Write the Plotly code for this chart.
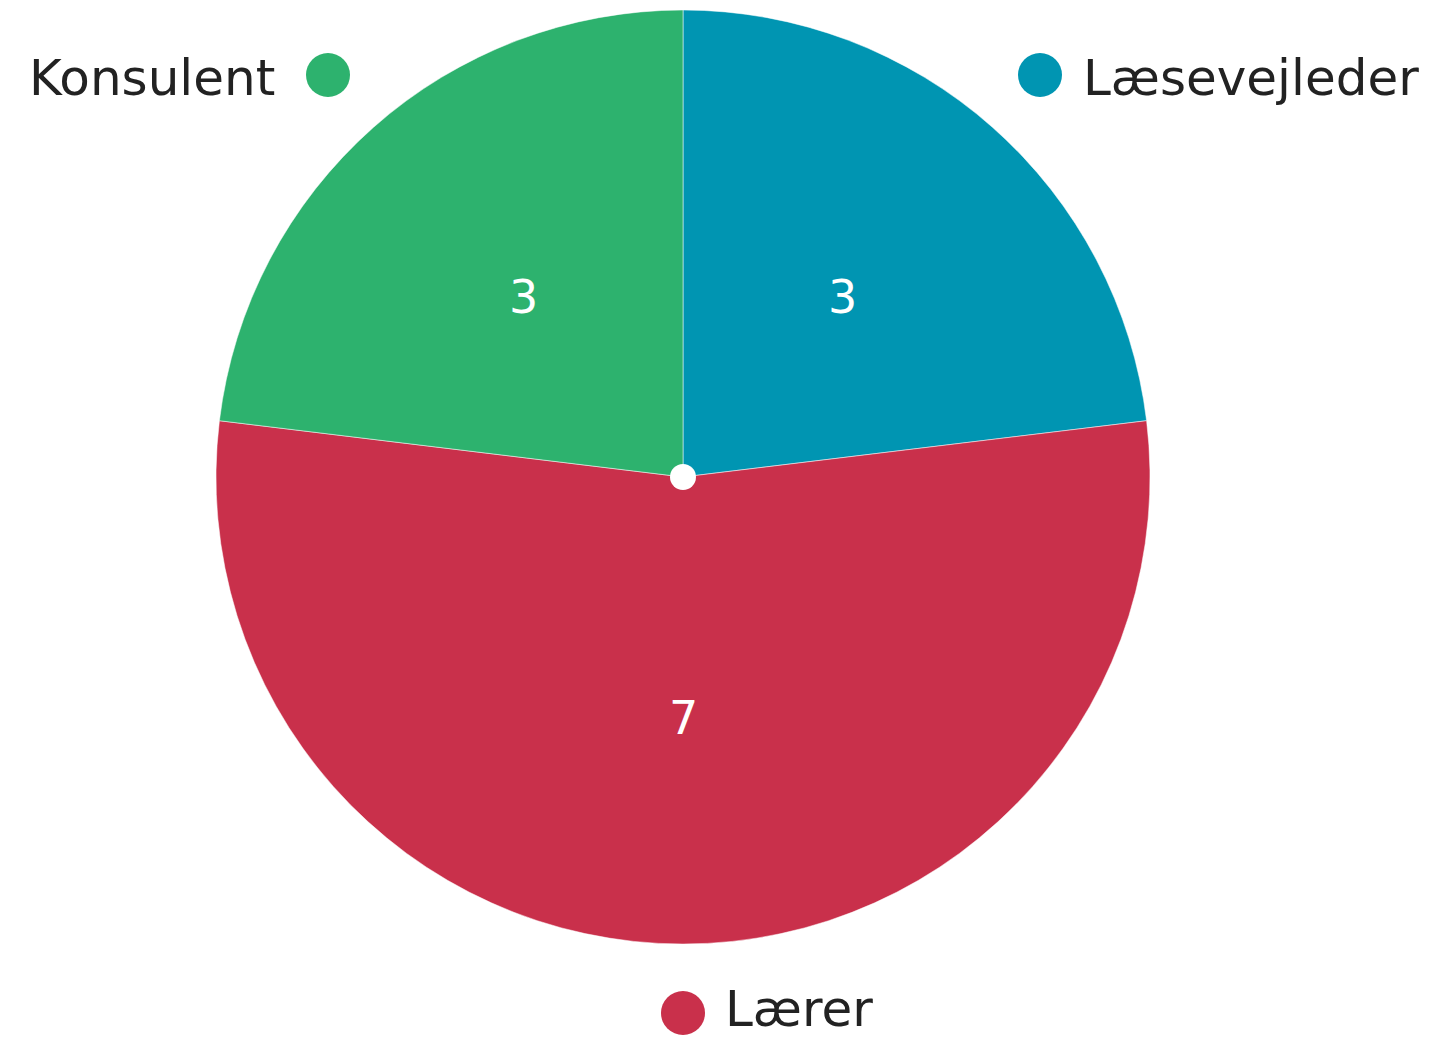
import math
import plotly.graph_objects as go

labels = ["Læsevejleder", "Lærer", "Konsulent"]
values = [3, 7, 3]
colors = ["#0095B2", "#C9304B", "#2DB26E"]

# page body has an 8px margin; work in page pixels and convert
OFF = 8
W, H = 1446 - 2 * OFF, 1040 - OFF
cx, cy, r = 683, 477, 467


def px(x):
    return (x - OFF) / W


def py(y):
    return 1 - (y - OFF) / H


fig = go.Figure()
fig.add_trace(go.Pie(
    labels=labels,
    values=values,
    sort=False,
    direction="clockwise",
    rotation=0,
    marker=dict(colors=colors, line=dict(color="rgba(255,255,255,0.5)", width=1)),
    textinfo="none",
    domain=dict(x=[px(cx - r), px(cx + r)], y=[py(cy + r), py(cy - r)]),
    showlegend=False,
    hoverinfo="label+value",
))

# value labels at each slice's mid-angle
total = sum(values)
acc = 0
for v in values:
    mid = (acc + v / 2) / total * 2 * math.pi
    acc += v
    tx = cx + 0.515 * r * math.sin(mid)
    ty = cy - 0.515 * r * math.cos(mid)
    fig.add_annotation(xref="paper", yref="paper", x=px(tx), y=py(ty),
                       xanchor="center", yanchor="middle", showarrow=False,
                       text=str(v),
                       font=dict(family="DejaVu Sans", size=46, color="white"))

# centre dot
fig.add_shape(type="circle", xref="paper", yref="paper",
              x0=px(cx - 13), x1=px(cx + 13), y0=py(cy + 13), y1=py(cy - 13),
              fillcolor="white", line=dict(width=0))

font = dict(family="DejaVu Sans", size=50, color="#222222")
# legend-like labels: (label index, dot centre x, y, text anchor x, side, text y)
items = [
    (2, 328, 75, 276, "right", 78),
    (0, 1040, 75, 1082, "left", 78),
    (1, 683, 1013, 724, "left", 1009),
]
for i, dx, dy, tx, side, ty in items:
    fig.add_shape(type="circle", xref="paper", yref="paper",
                  x0=px(dx - 22), x1=px(dx + 22), y0=py(dy + 22), y1=py(dy - 22),
                  fillcolor=colors[i], line=dict(width=0))
    fig.add_annotation(xref="paper", yref="paper", x=px(tx), y=py(ty),
                       xanchor=side, yanchor="middle", showarrow=False,
                       text=labels[i], font=font, borderpad=0)

fig.update_layout(width=W, height=H, margin=dict(l=0, r=0, t=0, b=0),
                  paper_bgcolor="white", plot_bgcolor="white")
fig.write_html("out.html")
